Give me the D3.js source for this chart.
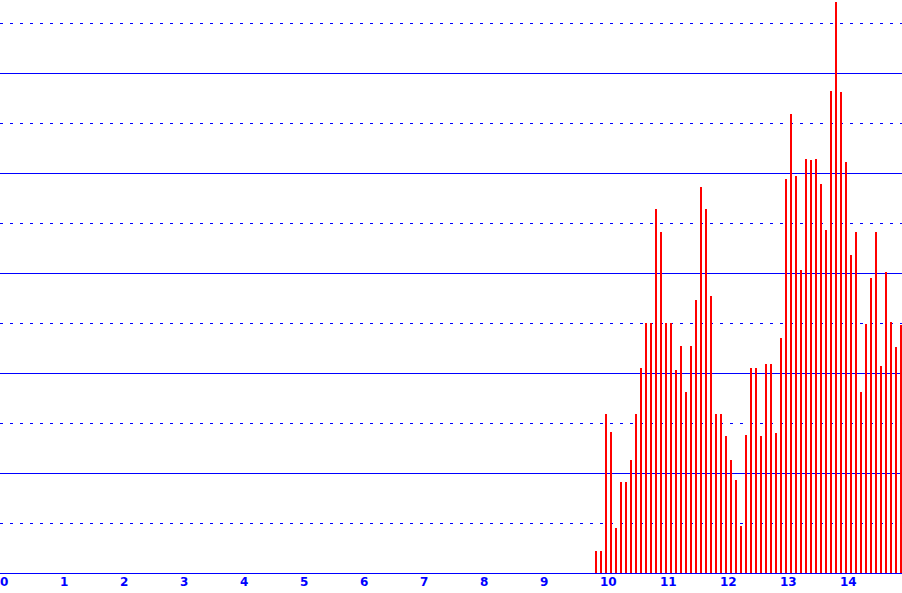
<!DOCTYPE html>
<html>
<head>
<meta charset="utf-8">
<script src="https://cdn.jsdelivr.net/npm/d3@7"></script>
<style>
  html, body { margin: 0; padding: 0; background: #ffffff; }
  svg { display: block; }
</style>
</head>
<body>
<div id="chart"></div>
<script>
// ---- data ----
// 5-minute slots from 09:55 to 15:00
const times = [
  "09:55","10:00","10:05","10:10","10:15","10:20","10:25","10:30","10:35","10:40","10:45","10:50",
  "10:55","11:00","11:05","11:10","11:15","11:20","11:25","11:30","11:35","11:40","11:45","11:50",
  "11:55","12:00","12:05","12:10","12:15","12:20","12:25","12:30","12:35","12:40","12:45","12:50",
  "12:55","13:00","13:05","13:10","13:15","13:20","13:25","13:30","13:35","13:40","13:45","13:50",
  "13:55","14:00","14:05","14:10","14:15","14:20","14:25","14:30","14:35","14:40","14:45","14:50",
  "14:55","15:00"
];
const values = [
  4.4, 4.4, 31.8, 28.2, 9, 18.2, 18.2, 22.6, 31.8, 41, 50, 50,
  72.8, 68.2, 50, 50, 40.6, 45.4, 36.2, 45.4, 54.6, 77.2, 72.8, 55.4,
  31.8, 31.8, 27.4, 22.6, 18.6, 9.4, 27.6, 41, 41, 27.4, 41.8, 41.8,
  28, 47, 78.8, 91.8, 79.4, 60.6, 82.8, 82.6, 82.8, 77.8, 68.6, 96.4,
  114.2, 96.2, 82.2, 63.6, 68.2, 36.2, 49.8, 59, 68.2, 41.4, 60.2, 50.2,
  45.2, 49.6
];
const xTicks = [0,1,2,3,4,5,6,7,8,9,10,11,12,13,14];
const gridMajor = [20, 40, 60, 80, 100];
const gridMinor = [10, 30, 50, 70, 90, 110];

// ---- layout ----
const W = 902, H = 593;
const baseY = 573;

const toHours = t => { const [h, m] = t.split(":").map(Number); return h + m / 60; };

const x = d3.scaleLinear().domain([0, 15]).range([0, 900]);
const y = d3.scaleLinear().domain([0, 114.6]).range([baseY, 0]);

const svg = d3.select("#chart").append("svg")
  .attr("width", W).attr("height", H);

// grid
svg.append("g").selectAll("line").data(gridMinor).join("line")
  .attr("x1", 0).attr("x2", W)
  .attr("y1", d => Math.round(y(d)) + 0.5).attr("y2", d => Math.round(y(d)) + 0.5)
  .attr("stroke", "#0000ff").attr("stroke-width", 1)
  .attr("stroke-dasharray", "3,7");

svg.append("g").selectAll("line").data(gridMajor).join("line")
  .attr("x1", 0).attr("x2", W)
  .attr("y1", d => Math.round(y(d)) + 0.5).attr("y2", d => Math.round(y(d)) + 0.5)
  .attr("stroke", "#0000ff").attr("stroke-width", 1);

// bars
const data = times.map((t, i) => ({ t: toHours(t), v: values[i] }));
svg.append("g").selectAll("rect").data(data).join("rect")
  .attr("x", d => Math.round(x(d.t)))
  .attr("width", 2)
  .attr("y", d => Math.round(y(d.v)))
  .attr("height", d => baseY - Math.round(y(d.v)))
  .attr("fill", "#ff0000");

// baseline
svg.append("line")
  .attr("x1", 0).attr("x2", W)
  .attr("y1", baseY + 0.5).attr("y2", baseY + 0.5)
  .attr("stroke", "#0000ff").attr("stroke-width", 1);

// x labels
svg.append("g").selectAll("text").data(xTicks).join("text")
  .attr("x", d => x(d))
  .attr("y", 585.5)
  .attr("fill", "#0000ff")
  .attr("font-family", "'DejaVu Sans', sans-serif")
  .attr("font-weight", "bold")
  .attr("font-size", 12)
  .text(d => d);
</script>
</body>
</html>
